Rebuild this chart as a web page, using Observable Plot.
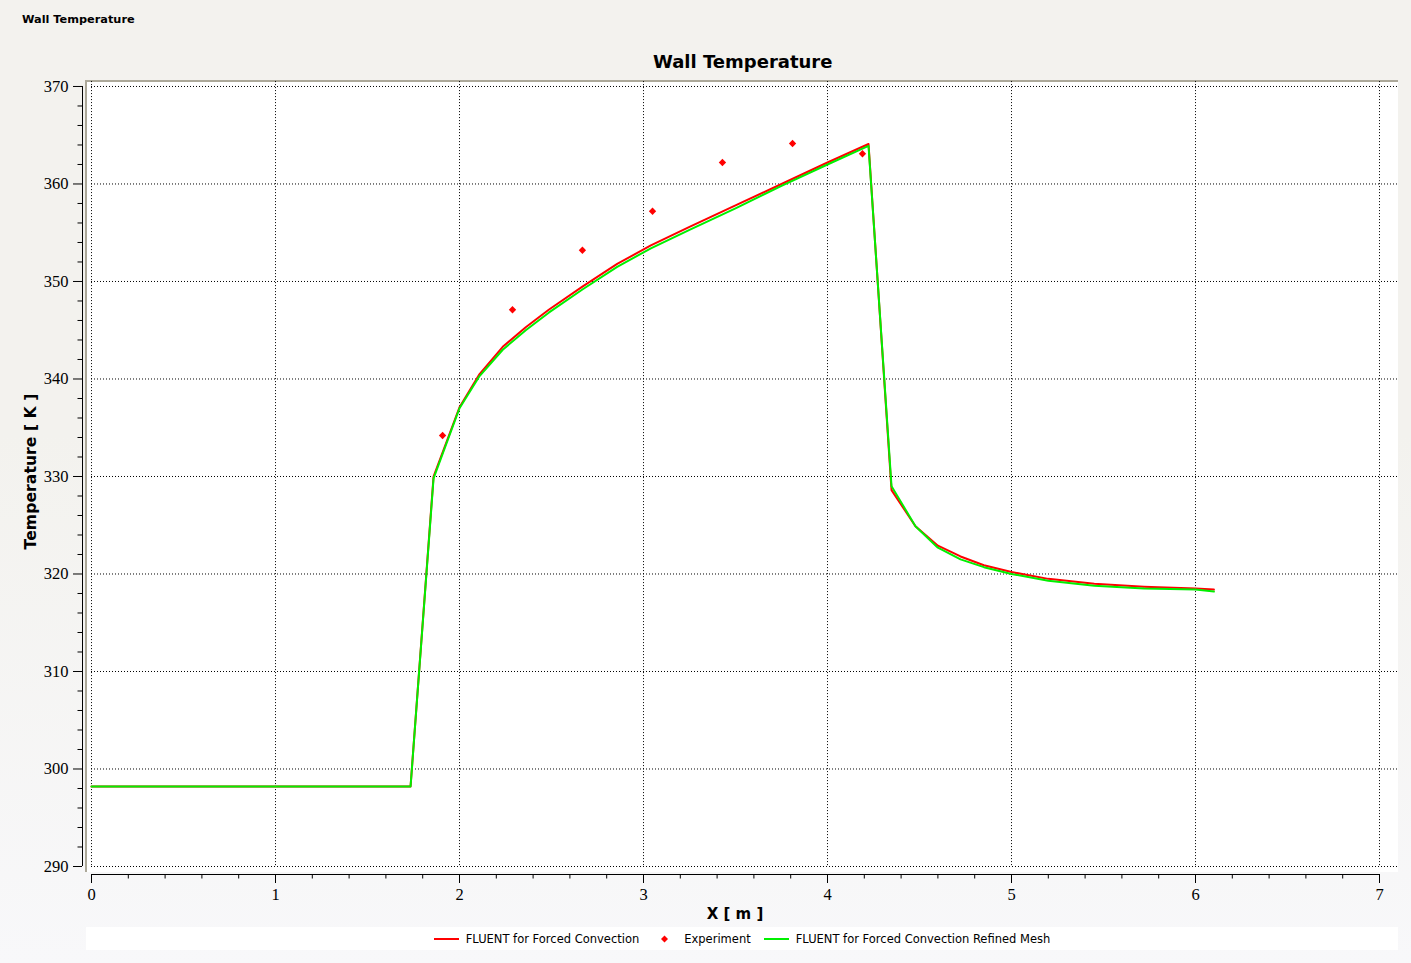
<!DOCTYPE html>
<html><head><meta charset="utf-8">
<script src="https://cdn.jsdelivr.net/npm/d3@7"></script>
<script src="https://cdn.jsdelivr.net/npm/@observablehq/plot@0.6"></script>
<style>
html,body{margin:0;padding:0;}
body{width:1411px;height:963px;position:relative;overflow:hidden;background:linear-gradient(to bottom,#f3f2ee 0%,#f3f2ee 45%,#f8f8fa 100%);font-family:"DejaVu Sans",sans-serif;color:#000;}
#small{position:absolute;left:22px;top:13px;font-weight:bold;font-size:11.3px;}
#panel{position:absolute;left:85px;top:80px;width:1313px;height:792px;background:#fff;border-top:2px solid #aca899;border-left:2px solid #aca899;box-sizing:border-box;}
#chart{position:absolute;left:0;top:0;}
#legend{position:absolute;left:86px;top:927px;width:1312px;height:23px;background:#fff;display:flex;justify-content:center;align-items:center;font-size:11.5px;}
.item{display:flex;align-items:center;margin:0 6.5px;}
.item svg{margin-right:7px;}
</style></head>
<body>
<div id="small">Wall Temperature</div>
<div id="panel"></div>
<div id="chart"></div>
<div id="legend"></div>
<script>
const chartTitle = "Wall Temperature";
const xLabel = "X [ m ]";
const yLabel = "Temperature [ K ]";
const seriesNames = ["FLUENT for Forced Convection", "Experiment", "FLUENT for Forced Convection Refined Mesh"];
const seriesColors = ["#ff0000", "#ff0000", "#00f000"];

const xTicks = [0, 1, 2, 3, 4, 5, 6, 7];
const yTicks = [290, 300, 310, 320, 330, 340, 350, 360, 370];

// FLUENT results (position along wall, temperature)
const xPos = [0, 1.734, 1.859, 2.0, 2.109, 2.235, 2.36, 2.485, 2.67, 2.857, 3.04, 3.25, 3.5, 3.75, 4.0, 4.223, 4.348, 4.478, 4.6, 4.723, 4.85, 5.0, 5.2, 5.45, 5.72, 6.0, 6.1];
const fluentT = [298.2, 298.2, 330.0, 337.1, 340.5, 343.3, 345.3, 347.1, 349.5, 351.8, 353.7, 355.6, 357.8, 360.0, 362.2, 364.1, 328.6, 324.9, 322.9, 321.8, 320.9, 320.2, 319.5, 319.0, 318.7, 318.5, 318.4];
const refinedT = [298.2, 298.2, 329.8, 337.0, 340.3, 343.0, 345.0, 346.8, 349.2, 351.5, 353.4, 355.3, 357.5, 359.8, 362.0, 363.9, 329.0, 324.9, 322.7, 321.5, 320.7, 320.0, 319.3, 318.8, 318.5, 318.4, 318.2];

// Experimental measurements
const expX = [1.908, 2.288, 2.668, 3.049, 3.429, 3.81, 4.19];
const expT = [334.2, 347.1, 353.2, 357.2, 362.2, 364.15, 363.1];

const fluent = xPos.map((x, i) => ({x, y: fluentT[i]}));
const refined = xPos.map((x, i) => ({x, y: refinedT[i]}));
const experiment = expX.map((x, i) => ({x, y: expT[i]}));

const xMinor = d3.range(0, 7.0001, 0.2).map(v => +v.toFixed(1)).filter(v => !xTicks.includes(v));
const yMinor = d3.range(290, 370.001, 2).filter(v => !yTicks.includes(v));

const grid = {stroke: "black", strokeOpacity: 1, strokeWidth: 1, strokeDasharray: "1,2"};
const tickFont = {fontFamily: "Liberation Serif", fontSize: 16.5, fill: "black"};
const sansBold = {fontFamily: "DejaVu Sans", fontWeight: "bold", fill: "black", lineAnchor: "middle", textAnchor: "middle"};

const plot = Plot.plot({
  width: 1411,
  height: 925,
  marginLeft: 91,
  marginRight: 13.6,
  marginTop: 81.1,
  marginBottom: 59,
  x: {domain: [0, 7.1]},
  y: {domain: [290, 370.5]},
  style: {background: "transparent", fontFamily: "Liberation Serif", fontSize: "16px", color: "black", overflow: "visible"},
  marks: [
    Plot.gridX(xTicks, grid),
    Plot.gridY(yTicks, grid),
    Plot.ruleX([xTicks[0]], {y1: yTicks[0], y2: yTicks[yTicks.length - 1], dx: -9, stroke: "black"}),
    Plot.ruleY([yTicks[0]], {x1: xTicks[0], x2: xTicks[xTicks.length - 1], dy: 8, stroke: "black"}),
    Plot.axisY(yTicks, {tickSize: 9, tickPadding: 5, dx: -9, label: null, tickFormat: d => String(d), ...tickFont}),
    Plot.axisY(yMinor, {tickSize: 4.5, dx: -9, label: null, tickFormat: () => ""}),
    Plot.axisX(xTicks, {tickSize: 9, tickPadding: 5, dy: 8, label: null, tickFormat: d => String(d), ...tickFont}),
    Plot.axisX(xMinor, {tickSize: 4.5, dy: 8, label: null, tickFormat: () => ""}),
    Plot.line(fluent, {x: "x", y: "y", stroke: seriesColors[0], strokeWidth: 2}),
    Plot.line(refined, {x: "x", y: "y", stroke: seriesColors[2], strokeWidth: 2}),
    Plot.dot(experiment, {x: "x", y: "y", symbol: "diamond2", r: 3.3, fill: seriesColors[1], stroke: "none"}),
    Plot.text([chartTitle], {frameAnchor: "top", dx: -2, dy: -19.5, fontSize: 18, ...sansBold}),
    Plot.text([xLabel], {frameAnchor: "bottom", dx: -9.7, dy: 47.5, fontSize: 15, ...sansBold}),
    Plot.text([yLabel], {frameAnchor: "left", rotate: -90, dx: -61, dy: -2.5, fontSize: 15.7, ...sansBold})
  ]
});
document.getElementById("chart").appendChild(plot);

// Legend
const legend = document.getElementById("legend");
seriesNames.forEach((name, i) => {
  const item = document.createElement("div");
  item.className = "item";
  const sw = i === 1
    ? `<svg width="25" height="10"><path d="M12.5,1.5 L16,5 L12.5,8.5 L9,5 Z" fill="${seriesColors[i]}"/></svg>`
    : `<svg width="25" height="10"><line x1="0" x2="25" y1="5" y2="5" stroke="${seriesColors[i]}" stroke-width="2"/></svg>`;
  item.innerHTML = sw + `<span>${name}</span>`;
  legend.appendChild(item);
});
</script>
</body></html>
